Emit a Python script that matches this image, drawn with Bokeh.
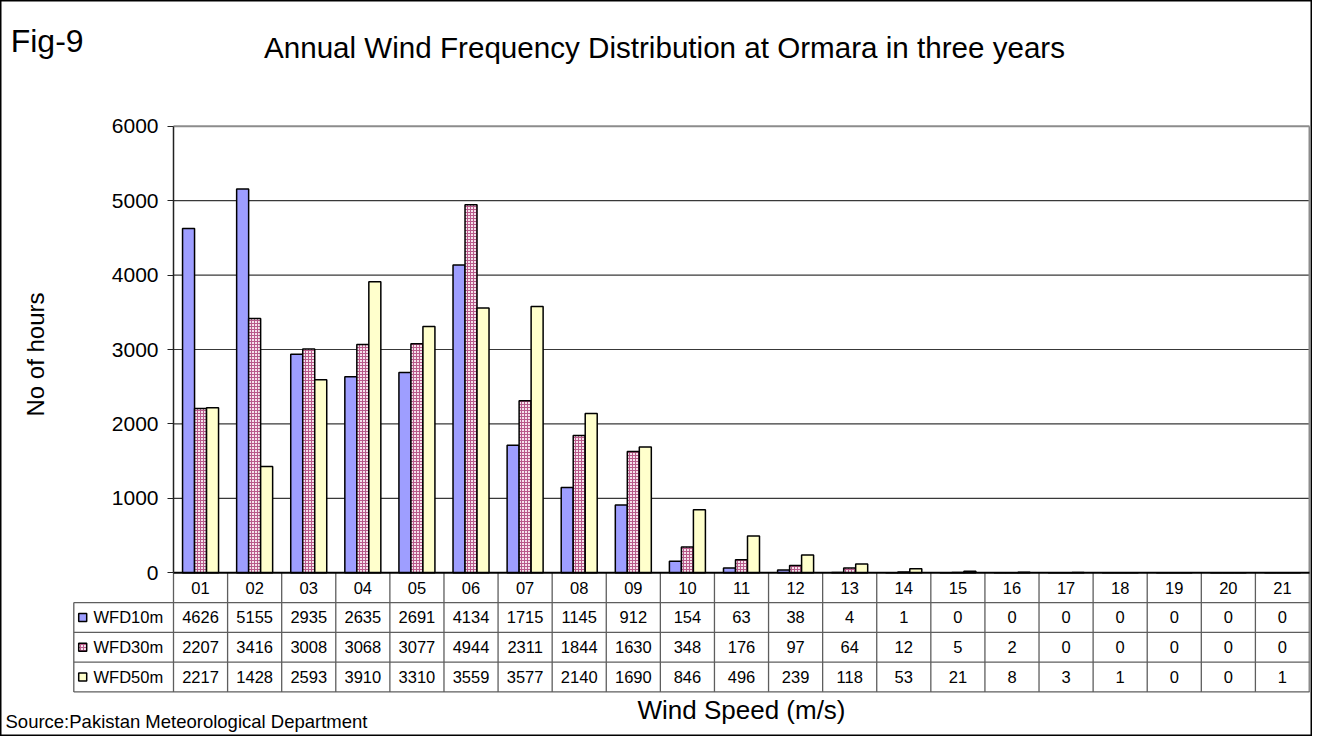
import numpy as np
from bokeh.plotting import figure
from bokeh.models import ColumnDataSource, LinearAxis, FixedTicker, Range1d, Label
from bokeh.embed import file_html
from bokeh.resources import INLINE
from bokeh.core.properties import value

# ---------------- data ----------------
categories = ["01", "02", "03", "04", "05", "06", "07", "08", "09", "10", "11",
              "12", "13", "14", "15", "16", "17", "18", "19", "20", "21"]
series_names = ["WFD10m", "WFD30m", "WFD50m"]
wfd10m = [4626, 5155, 2935, 2635, 2691, 4134, 1715, 1145, 912, 154, 63, 38, 4, 1, 0, 0, 0, 0, 0, 0, 0]
wfd30m = [2207, 3416, 3008, 3068, 3077, 4944, 2311, 1844, 1630, 348, 176, 97, 64, 12, 5, 2, 0, 0, 0, 0, 0]
wfd50m = [2217, 1428, 2593, 3910, 3310, 3559, 3577, 2140, 1690, 846, 496, 239, 118, 53, 21, 8, 3, 1, 0, 0, 1]
y_ticks = [0, 1000, 2000, 3000, 4000, 5000, 6000]

title_text = "Annual Wind Frequency Distribution at Ormara in three years"
fig_text = "Fig-9"
y_label = "No of hours"
x_label = "Wind Speed (m/s)"
source_text = "Source:Pakistan Meteorological Department"

# ---------------- layout helpers (canvas pixels -> data) ----------------
W, H = 1312, 736
FONT = "Liberation Sans"
n = len(categories)
PX0, PX1 = 173.0, 1309.0      # x of plot left / right
PY0, PYT = 572.3, 125.7       # y of value 0 / 6000
ux = (PX1 - PX0) / n
uy = (PY0 - PYT) / y_ticks[-1]


def dx(px):
    return (px - PX0) / ux


def dy(py):
    return (PY0 - py) / uy


ROW = 400.0   # table row height in data units

p = figure(width=W, height=H,
           x_range=Range1d(dx(0), dx(W)), y_range=Range1d(dy(H), dy(0)),
           output_backend="svg", toolbar_location=None,
           x_axis_location=None, y_axis_location=None,
           min_border=0, min_border_left=0, min_border_right=0,
           min_border_top=0, min_border_bottom=0)
p.grid.visible = False
p.background_fill_color = "white"
p.border_fill_color = "white"
p.outline_line_color = "black"
p.outline_line_width = 2

# gridlines & plot border
p.segment(x0=[0] * 5, x1=[n] * 5, y0=y_ticks[1:-1], y1=y_ticks[1:-1],
          line_color="#383838", line_width=1.2)
p.segment(x0=[0], x1=[n], y0=[y_ticks[-1]], y1=[y_ticks[-1]],
          line_color="#8c8c8c", line_width=2)
p.segment(x0=[n], x1=[n], y0=[-4 * ROW], y1=[y_ticks[-1]],
          line_color="#8c8c8c", line_width=2)

# bars
bar_w = 12.0 / ux
styles = [
    dict(fill_color="#9E9EFF"),
    dict(fill_color="#F6E2EC", hatch_pattern="+", hatch_color="#B85A8A", hatch_scale=3.0, hatch_weight=1.0),
    dict(fill_color="#FFFFCC"),
]
all_series = [wfd10m, wfd30m, wfd50m]
centers = np.arange(n) + 0.5
for k, (vals, st) in enumerate(zip(all_series, styles)):
    src = ColumnDataSource(dict(x=centers + (k - 1) * bar_w, top=vals))
    p.vbar(x="x", top="top", bottom=0, width=bar_w, source=src,
           line_color="black", line_width=1.5, **st)

# y axis
yaxis = LinearAxis(ticker=FixedTicker(ticks=y_ticks), fixed_location=0, bounds=(0, y_ticks[-1]))
yaxis.major_label_text_font = FONT
yaxis.major_label_text_font_size = "21px"
yaxis.major_label_text_color = "black"
yaxis.major_tick_out = 6
yaxis.major_tick_in = 0
yaxis.major_tick_line_color = "#222222"
yaxis.minor_tick_line_color = None
yaxis.axis_line_color = "#222222"
yaxis.axis_line_width = 1.5
yaxis.major_label_standoff = 9
p.add_layout(yaxis, "left")

# data table below the plot
tab_left = dx(73.3)
row_y = [-(r + 0.5) * ROW for r in range(4)]
hl_y = [-(r + 1) * ROW for r in range(4)]
p.segment(x0=[tab_left] * 4, x1=[n] * 4, y0=hl_y, y1=hl_y, line_color="#5e5e5e", line_width=1.3)
vx = list(range(n))
p.segment(x0=vx, x1=vx, y0=[-4 * ROW] * n, y1=[0] * n, line_color="#5e5e5e", line_width=1.3)
p.segment(x0=[tab_left], x1=[tab_left], y0=[-4 * ROW], y1=[-ROW], line_color="#5e5e5e", line_width=1.3)
# x axis line
p.segment(x0=[0], x1=[n], y0=[0], y1=[0], line_color="black", line_width=2)

cat_src = ColumnDataSource(dict(x=centers, y=[row_y[0]] * n, t=categories))
p.text(x="x", y="y", text="t", source=cat_src, text_align="center", text_baseline="middle",
       text_font=value(FONT), text_font_size="16.5px", text_color="black")
for k, vals in enumerate(all_series):
    s = ColumnDataSource(dict(x=centers, y=[row_y[k + 1]] * n, t=[str(v) for v in vals]))
    p.text(x="x", y="y", text="t", source=s, text_align="center", text_baseline="middle",
           text_font=value(FONT), text_font_size="16.5px", text_color="black")
    # legend key + series name
    p.rect(x=[dx(82.2)], y=[row_y[k + 1]], width=8, height=8, width_units="screen",
           height_units="screen", line_color="black", line_width=1.5, **styles[k])
    p.text(x=[dx(93)], y=[row_y[k + 1]], text=[series_names[k]], text_align="left",
           text_baseline="middle", text_font=value(FONT), text_font_size="16.5px",
           text_color="black")

# texts
def lab(text, px, py, size, align="center", baseline="middle", angle=0.0):
    p.add_layout(Label(x=dx(px), y=dy(py), text=text, text_font=FONT, text_font_size=size,
                       text_align=align, text_baseline=baseline, angle=angle, text_color="black"))


lab(fig_text, 10.2, 40, "32px", align="left", baseline="alphabetic")
lab(title_text, 664, 46.5, "29.6px")
lab(y_label, 35, 354, "24px", angle=np.pi / 2)
lab(x_label, 741, 709, "26px")
lab(source_text, 5, 721, "18.5px", align="left")

open("out.html", "w").write(file_html(p, INLINE))
